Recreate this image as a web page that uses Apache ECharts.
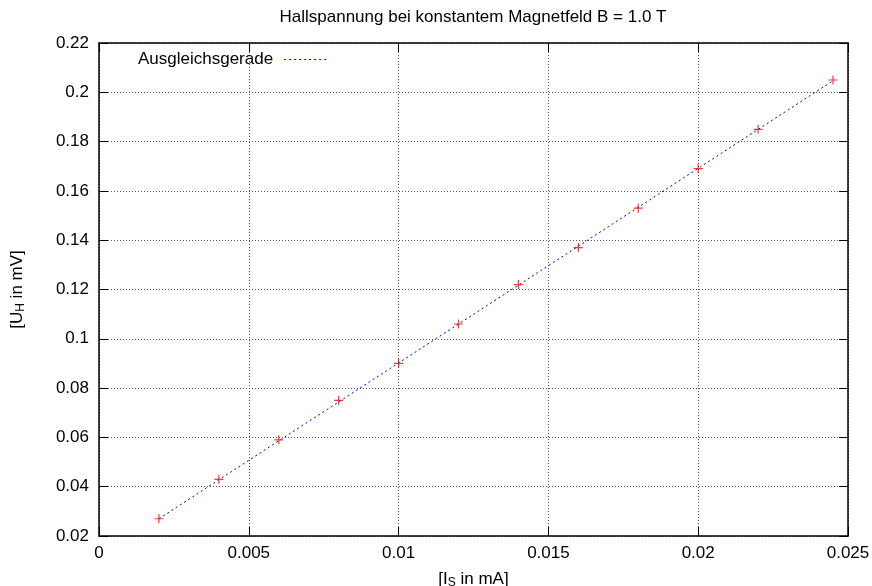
<!DOCTYPE html>
<html>
<head>
<meta charset="utf-8">
<script src="https://cdn.jsdelivr.net/npm/echarts@6/dist/echarts.min.js"></script>
<style>
html,body{margin:0;padding:0;background:#fff;}
#chart{width:872px;height:586px;}
</style>
</head>
<body>
<div id="chart"></div>
<script>
// Measured data: current I_S (mA) vs Hall voltage U_H (mV)
const currentIs = [0.002, 0.004, 0.006, 0.008, 0.010, 0.012, 0.014, 0.016, 0.018, 0.020, 0.022, 0.0245];
const voltageUh = [0.027, 0.043, 0.059, 0.075, 0.090, 0.106, 0.122, 0.137, 0.153, 0.169, 0.185, 0.205];
// Fit line (Ausgleichsgerade) endpoints
const fitX = [0.002, 0.0245];
const fitY = [0.0270, 0.2047];
const xTicks = [0, 0.005, 0.01, 0.015, 0.02, 0.025];
const yTicks = [0.02, 0.04, 0.06, 0.08, 0.1, 0.12, 0.14, 0.16, 0.18, 0.2, 0.22];

const FONT = '"Liberation Sans", Arial, sans-serif';
const FS = 17;

const chart = echarts.init(document.getElementById('chart'), null, {renderer: 'canvas'});

const gridLine = {show: true, lineStyle: {color: '#555', type: [1, 2], width: 1}};
const tick = {show: true, inside: true, length: 9, lineStyle: {color: '#000', width: 1}};
const axisLine = {show: true, onZero: false, lineStyle: {color: '#000', width: 1.5}};

const option = {
  animation: false,
  backgroundColor: '#fff',
  title: {
    text: 'Hallspannung bei konstantem Magnetfeld B = 1.0 T',
    left: 473,
    top: 9,
    padding: 0,
    textAlign: 'center',
    textStyle: {fontFamily: FONT, fontSize: FS, fontWeight: 'normal', color: '#000'}
  },
  legend: {
    data: ['Ausgleichsgerade'],
    left: 138,
    top: 51,
    padding: 0,
    align: 'right',
    itemWidth: 45,
    itemHeight: 14,
    itemStyle: {opacity: 0},
    lineStyle: {width: 1, type: [2, 3]},
    textStyle: {fontFamily: FONT, fontSize: FS, color: '#000', padding: [0, 6, 0, 0]}
  },
  grid: {left: 99, right: 24, top: 43, bottom: 50, containLabel: false, outerBoundsMode: 'none'},
  xAxis: [{
    type: 'value',
    position: 'bottom',
    min: xTicks[0], max: xTicks[xTicks.length - 1], interval: 0.005,
    name: '[I{sub|S} in mA]',
    nameLocation: 'middle',
    nameGap: 33,
    nameTextStyle: {fontFamily: FONT, fontSize: FS, color: '#000',
      rich: {sub: {fontFamily: FONT, fontSize: 12, color: '#000', padding: [8, 0, 0, 0]}}},
    axisLine: axisLine,
    axisTick: tick,
    splitLine: gridLine,
    axisLabel: {fontFamily: FONT, fontSize: FS, color: '#000', margin: 9,
      formatter: v => String(parseFloat(v.toFixed(4)))}
  }, {
    type: 'value',
    position: 'top',
    min: xTicks[0], max: xTicks[xTicks.length - 1], interval: 0.005,
    axisLine: axisLine,
    axisTick: tick,
    splitLine: {show: false},
    axisLabel: {show: false}
  }],
  yAxis: [{
    type: 'value',
    position: 'left',
    min: yTicks[0], max: yTicks[yTicks.length - 1], interval: 0.02,
    name: '[U{sub|H} in mV]',
    nameLocation: 'middle',
    nameGap: 72,
    nameRotate: 90,
    nameTextStyle: {fontFamily: FONT, fontSize: FS, color: '#000',
      rich: {sub: {fontFamily: FONT, fontSize: 12, color: '#000', padding: [8, 0, 0, 0]}}},
    axisLine: axisLine,
    axisTick: tick,
    splitLine: gridLine,
    axisLabel: {fontFamily: FONT, fontSize: FS, color: '#000', margin: 10,
      formatter: v => String(parseFloat(v.toFixed(4)))}
  }, {
    type: 'value',
    position: 'right',
    min: yTicks[0], max: yTicks[yTicks.length - 1], interval: 0.02,
    axisLine: axisLine,
    axisTick: tick,
    splitLine: {show: false},
    axisLabel: {show: false}
  }],
  series: [{
    name: 'Ausgleichsgerade',
    type: 'line',
    xAxisIndex: 0, yAxisIndex: 0,
    data: fitX.map((x, i) => [x, fitY[i]]),
    symbol: 'none',
    color: '#0000ff',
    lineStyle: {color: '#0000ff', width: 1, type: [2, 3]},
    itemStyle: {color: '#0000ff'},
    z: 3
  }, {
    name: 'Messwerte',
    type: 'scatter',
    xAxisIndex: 0, yAxisIndex: 0,
    data: currentIs.map((x, i) => [x, voltageUh[i]]),
    symbol: 'path://M0,5L10,5M5,0L5,10',
    symbolSize: 9,
    itemStyle: {color: 'rgba(0,0,0,0)', borderColor: '#ff0000', borderWidth: 1.2},
    z: 4
  }]
};
chart.setOption(option);
</script>
</body>
</html>
